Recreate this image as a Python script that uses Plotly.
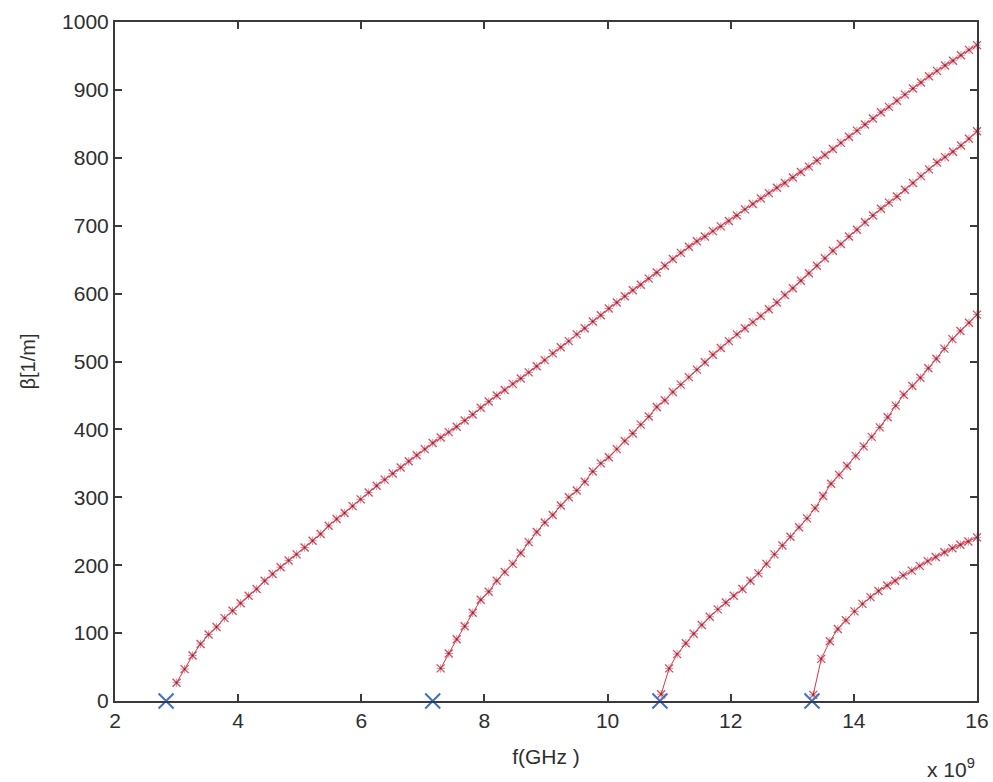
import plotly.graph_objects as go

# Mode 1
f1 = [3.00, 3.13, 3.26, 3.39, 3.52, 3.65, 3.78, 3.91, 4.04, 4.17, 4.30, 4.43, 4.56, 4.69, 4.82, 4.95,
      5.08, 5.21, 5.34, 5.47, 5.60, 5.73, 5.86, 5.99, 6.12, 6.25, 6.38, 6.51, 6.64, 6.77, 6.90, 7.03,
      7.16, 7.29, 7.42, 7.55, 7.68, 7.81, 7.94, 8.07, 8.20, 8.33, 8.46, 8.59, 8.72, 8.85, 8.98, 9.11,
      9.24, 9.37, 9.50, 9.63, 9.76, 9.89, 10.02, 10.15, 10.28, 10.41, 10.54, 10.67, 10.80, 10.93,
      11.06, 11.19, 11.32, 11.45, 11.58, 11.71, 11.84, 11.97, 12.10, 12.23, 12.36, 12.49, 12.62,
      12.75, 12.88, 13.01, 13.14, 13.27, 13.40, 13.53, 13.66, 13.79, 13.92, 14.05, 14.18, 14.31,
      14.44, 14.57, 14.70, 14.83, 14.96, 15.09, 15.22, 15.35, 15.48, 15.61, 15.74, 15.87, 16.00]
b1 = [27, 47, 67, 84, 98, 109, 122, 133, 144, 155, 165, 177, 187, 197, 207, 216,
      226, 236, 246, 258, 268, 277, 287, 297, 307, 317, 326, 335, 344, 353, 362, 371,
      380, 388, 396, 404, 413, 422, 432, 441, 450, 458, 467, 475, 484, 493, 502, 512,
      521, 530, 540, 549, 559, 568, 578, 587, 596, 605, 613, 622, 631, 641,
      651, 660, 669, 677, 684, 692, 699, 707, 715, 724, 732, 740, 748,
      756, 763, 771, 779, 787, 796, 804, 813, 822, 831, 840, 849, 858,
      867, 875, 884, 893, 902, 911, 920, 928, 936, 943, 951, 959, 966]

# Mode 2
f2 = [7.29, 7.42, 7.55, 7.68, 7.81, 7.94, 8.07, 8.20, 8.33, 8.46, 8.59, 8.72, 8.85, 8.98, 9.11,
      9.24, 9.37, 9.50, 9.63, 9.76, 9.89, 10.02, 10.15, 10.28, 10.41, 10.54, 10.67, 10.80, 10.93,
      11.06, 11.19, 11.32, 11.45, 11.58, 11.71, 11.84, 11.97, 12.10, 12.23, 12.36, 12.49, 12.62,
      12.75, 12.88, 13.01, 13.14, 13.27, 13.40, 13.53, 13.66, 13.79, 13.92, 14.05, 14.18, 14.31,
      14.44, 14.57, 14.70, 14.83, 14.96, 15.09, 15.22, 15.35, 15.48, 15.61, 15.74, 15.87, 16.00]
b2 = [48, 70, 91, 110, 130, 149, 161, 177, 190, 202, 218, 234, 249, 263, 274,
      288, 300, 310, 323, 338, 350, 359, 371, 383, 394, 407, 419, 433, 443,
      455, 466, 477, 488, 499, 510, 520, 530, 540, 549, 558, 567, 577,
      587, 598, 608, 619, 630, 641, 652, 663, 673, 684, 694, 705, 715,
      725, 734, 743, 753, 763, 773, 783, 793, 801, 809, 818, 828, 839]

# Mode 3
f3 = [10.87, 11.00, 11.13, 11.27, 11.40, 11.53, 11.66, 11.79, 11.92, 12.05, 12.19, 12.32, 12.45,
      12.58, 12.71, 12.84, 12.97, 13.11, 13.24, 13.37, 13.50, 13.63, 13.76, 13.89, 14.03, 14.16,
      14.29, 14.42, 14.55, 14.68, 14.81, 14.95, 15.08, 15.21, 15.34, 15.47, 15.60, 15.73, 15.87, 16.00]
b3 = [10, 48, 69, 85, 99, 112, 124, 135, 145, 155, 165, 177, 188,
      202, 216, 229, 242, 256, 269, 284, 302, 320, 333, 346, 361, 375,
      389, 403, 418, 435, 451, 464, 476, 490, 504, 519, 533, 545, 557, 569]

# Mode 4
f4 = [13.34, 13.47, 13.61, 13.74, 13.87, 14.01, 14.14, 14.27, 14.40, 14.54, 14.67,
      14.80, 14.94, 15.07, 15.20, 15.33, 15.47, 15.60, 15.73, 15.86, 16.00]
b4 = [9, 62, 88, 106, 119, 132, 143, 153, 162, 170, 177,
      185, 192, 199, 206, 212, 219, 225, 230, 235, 241]

# Cutoff frequencies (blue markers)
f_cut = [2.83, 7.16, 10.85, 13.32]
b_cut = [0, 0, 0, 0]

x_ticks = [2, 4, 6, 8, 10, 12, 14, 16]
y_ticks = [0, 100, 200, 300, 400, 500, 600, 700, 800, 900, 1000]

FONT = "Liberation Sans, Arial, sans-serif"
TXT = "#2e2e2e"

fig = go.Figure()
for fx, by in [(f1, b1), (f2, b2), (f3, b3), (f4, b4)]:
    fig.add_trace(go.Scatter(
        x=fx, y=by, mode="lines+markers",
        line=dict(color="#d6354a", width=1),
        marker=dict(symbol="x-thin", size=8, line=dict(color="#e8405a", width=1.3)),
        cliponaxis=False, showlegend=False, hoverinfo="skip"))
    fig.add_trace(go.Scatter(
        x=fx, y=by, mode="markers",
        marker=dict(symbol="cross-thin", size=6, line=dict(color="rgba(30,20,20,0.38)", width=1)),
        cliponaxis=False, showlegend=False, hoverinfo="skip"))

fig.add_trace(go.Scatter(
    x=f_cut, y=b_cut, mode="markers",
    marker=dict(symbol="x-thin", size=15, line=dict(color="#3f6fd0", width=2)),
    cliponaxis=False, showlegend=False, hoverinfo="skip"))

axis_common = dict(
    showline=True, linecolor="#3a3a3a", linewidth=2, mirror="ticks",
    ticks="inside", ticklen=7, tickwidth=1.5, tickcolor="#3a3a3a",
    showgrid=False, zeroline=False, automargin=False,
    tickfont=dict(family=FONT, size=21, color=TXT),
)

fig.update_xaxes(range=[2, 16], tickvals=x_ticks, ticktext=[str(v) for v in x_ticks],
                 title=dict(text="f(GHz )", font=dict(family=FONT, size=21, color=TXT), standoff=18),
                 **axis_common)
fig.update_yaxes(range=[0, 1000], tickvals=y_ticks, ticktext=[str(v) for v in y_ticks],
                 title=dict(text="β[1/m]", font=dict(family=FONT, size=20, color=TXT), standoff=21),
                 **axis_common)

fig.add_annotation(text="x 10<sup>9</sup>", xref="paper", yref="paper", x=1.0, y=-0.077,
                   xanchor="right", yanchor="top", showarrow=False,
                   font=dict(family=FONT, size=21, color=TXT))

fig.update_layout(
    width=993, height=782,
    margin=dict(l=115, r=16, t=22, b=81),
    paper_bgcolor="white", plot_bgcolor="white",
)

fig.write_html("out.html", config={"displayModeBar": False},
               post_script="document.body.style.margin='0px';document.body.style.overflow='hidden';")
